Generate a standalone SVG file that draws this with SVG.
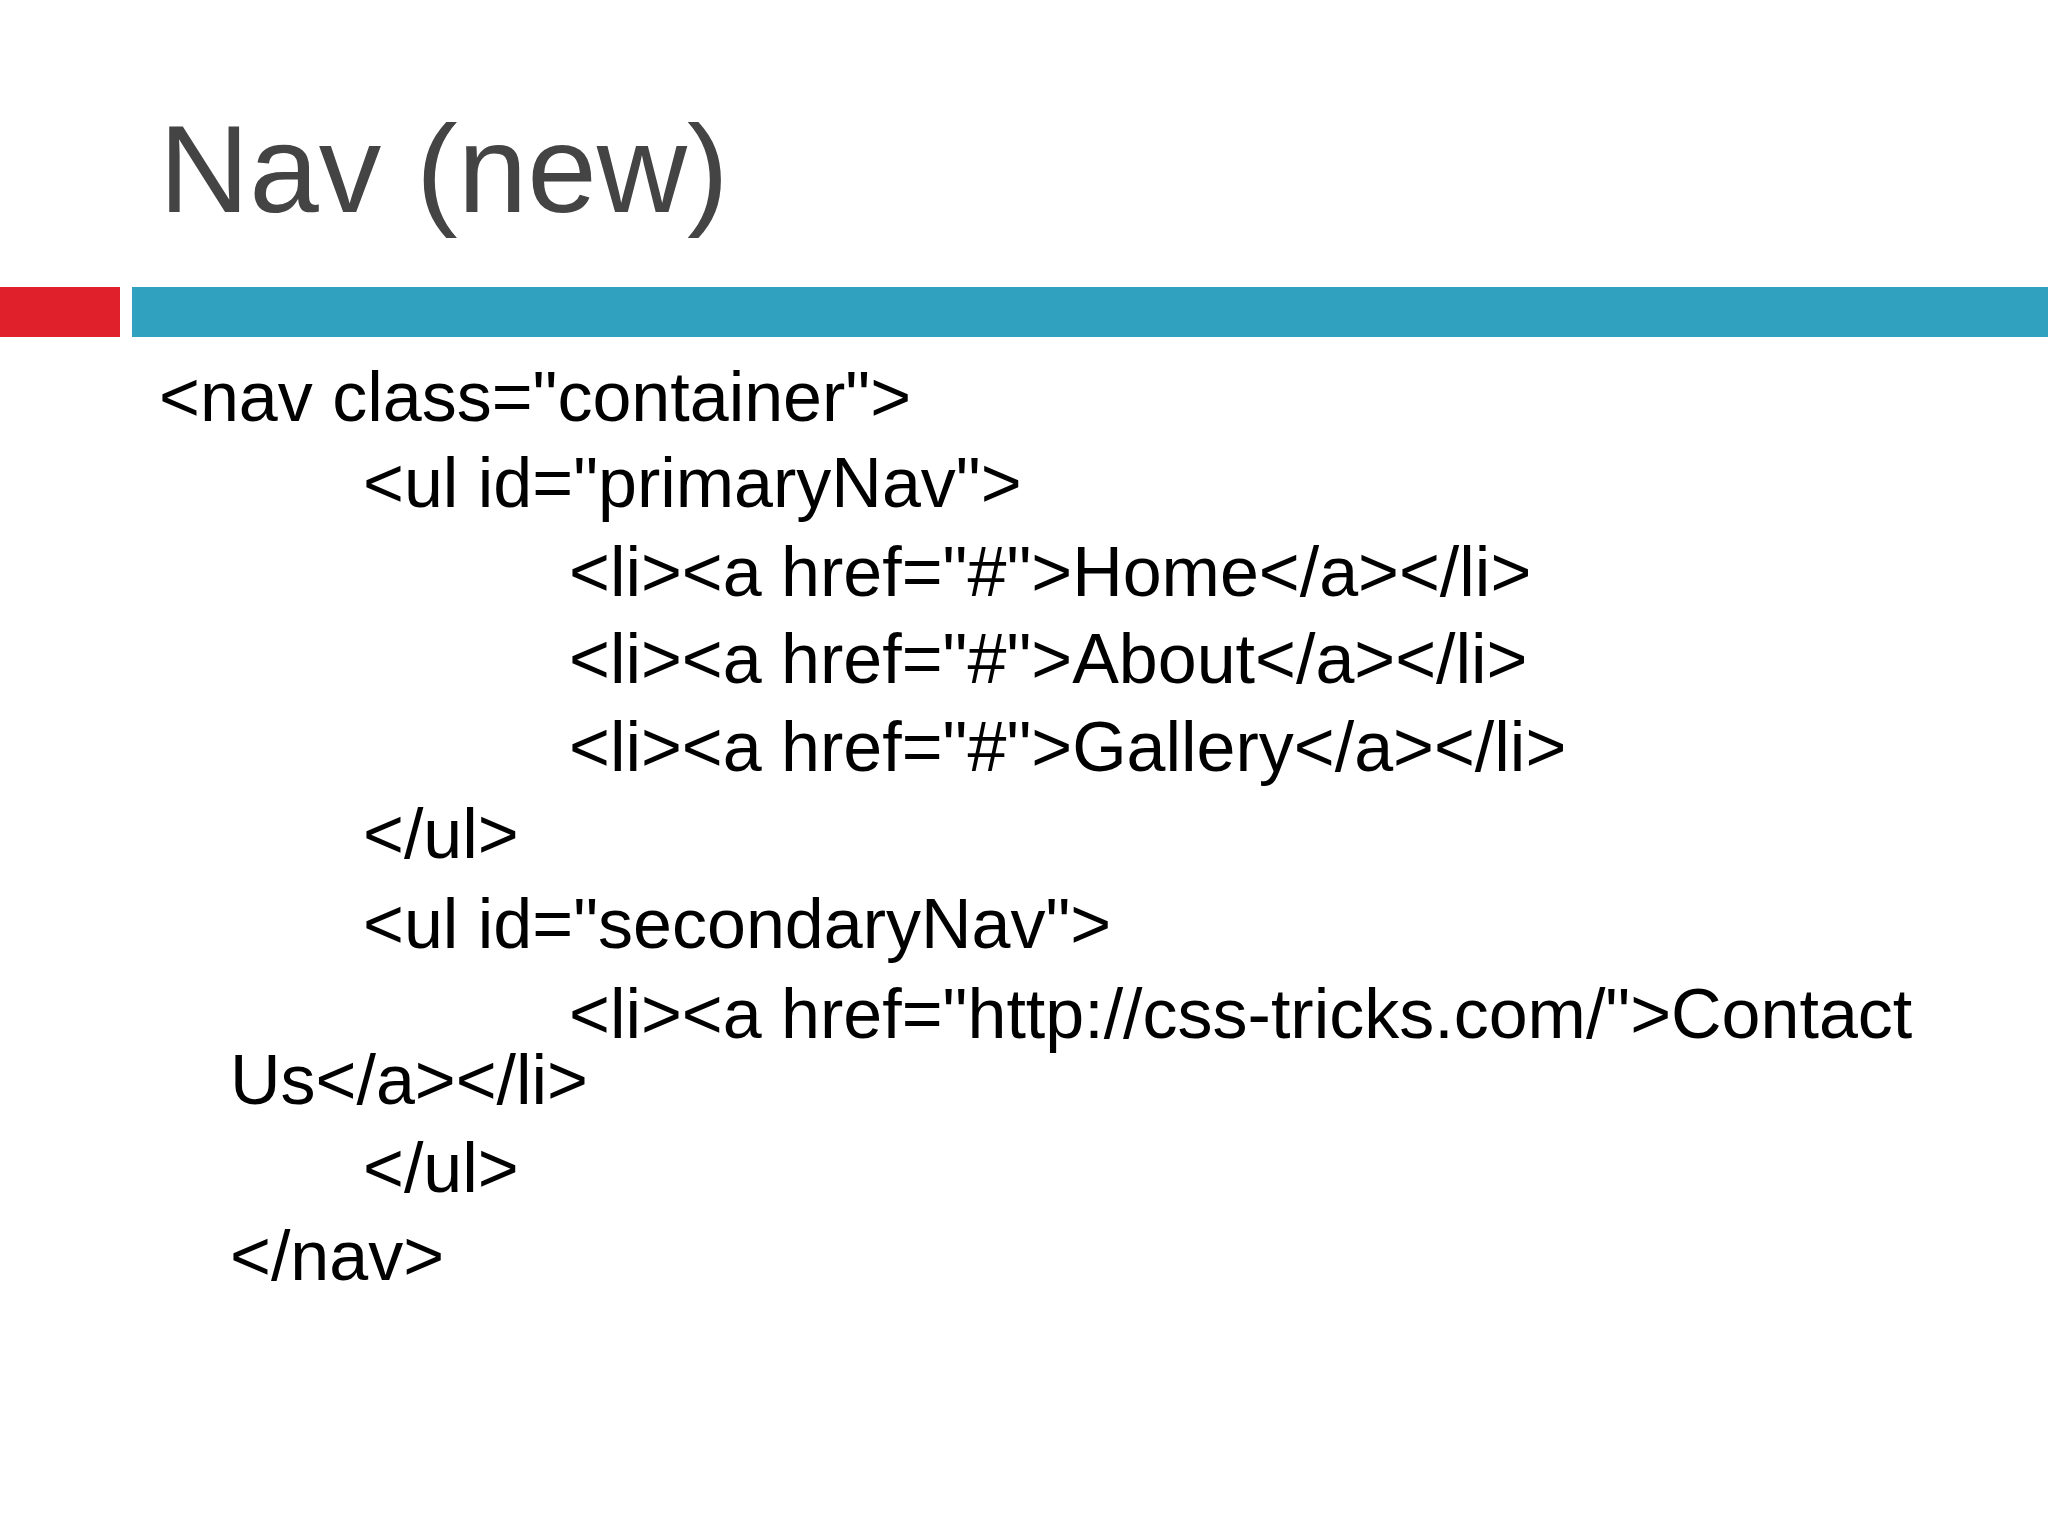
<svg xmlns="http://www.w3.org/2000/svg" width="2048" height="1536" viewBox="0 0 2048 1536">
<style>
.t{font-family:"Liberation Sans",Arial,sans-serif;font-size:125px;fill:#444444}
.c{font-family:"Liberation Sans",Arial,sans-serif;font-size:70px;fill:#000000}
</style>
<rect width="2048" height="1536" fill="#ffffff"/>
<g id="title"><text class="t" x="159" y="212">Nav (new)</text></g>
<g id="bars">
<rect x="0" y="287" width="120" height="50" fill="#e0202a"/>
<rect x="132" y="287" width="1916" height="50" fill="#30a2c0"/>
</g>
<g id="code">
<text class="c" x="159" y="421">&lt;nav class="container"&gt;</text>
<text class="c" x="363" y="507">&lt;ul id="primaryNav"&gt;</text>
<text class="c" x="569" y="596">&lt;li&gt;&lt;a href="#"&gt;Home&lt;/a&gt;&lt;/li&gt;</text>
<text class="c" x="569" y="683">&lt;li&gt;&lt;a href="#"&gt;About&lt;/a&gt;&lt;/li&gt;</text>
<text class="c" x="569" y="771">&lt;li&gt;&lt;a href="#"&gt;Gallery&lt;/a&gt;&lt;/li&gt;</text>
<text class="c" x="363" y="858">&lt;/ul&gt;</text>
<text class="c" x="363" y="948">&lt;ul id="secondaryNav"&gt;</text>
<text class="c" x="569" y="1038">&lt;li&gt;&lt;a href="http://css-tricks.com/"&gt;Contact</text>
<text class="c" x="230" y="1104">Us&lt;/a&gt;&lt;/li&gt;</text>
<text class="c" x="363" y="1192">&lt;/ul&gt;</text>
<text class="c" x="230" y="1280">&lt;/nav&gt;</text>
</g>
</svg>
